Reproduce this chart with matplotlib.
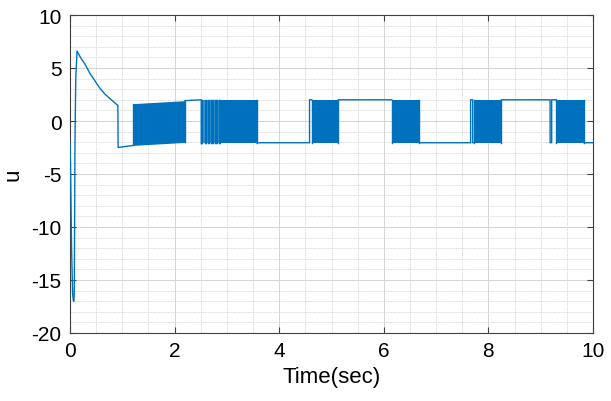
import numpy as np
import matplotlib
matplotlib.use("Agg")
import matplotlib.pyplot as plt

# ---- data ----
# initial transient (time in s, u)
t_transient = [0.0, 0.01, 0.03, 0.05, 0.065, 0.075, 0.082, 0.087, 0.095, 0.11, 0.135,
               0.2, 0.287, 0.38, 0.478, 0.57, 0.669, 0.79, 0.904, 0.915, 0.92, 1.21]
u_transient = [-2.0, -4.0, -12.0, -16.3, -17.0, -17.0, -16.0, -11.0, -2.0, 4.0, 6.6,
               6.0, 5.36, 4.5, 3.78, 3.1, 2.53, 2.0, 1.51, 1.5, -2.5, -2.3]

# piecewise "hold" segments between chattering bursts (time, u)
t_hold = [2.20, 2.50, np.nan, 3.57, 4.58, 4.58, 4.62, np.nan, 5.13, 6.15, np.nan,
          6.68, 7.66, 7.66, 7.70, 7.70, 7.73, np.nan, 8.25, 9.18, 9.18, 9.21, 9.21, 9.30,
          np.nan, 9.83, 10.0]
u_hold = [1.92, 2.0, np.nan, -2.05, -2.05, 2.0, 2.0, np.nan, 2.0, 2.0, np.nan,
          -2.05, -2.05, 2.0, 2.0, -2.05, -2.05, np.nan, 2.0, 2.0, -2.05, -2.05, 2.0, 2.0,
          np.nan, -2.05, -2.05]

# chattering bursts: start, end, upper (start,end), lower (start,end)
burst_start = [1.21, 2.50, 4.62, 6.15, 7.73, 9.30]
burst_end = [2.20, 3.57, 5.13, 6.68, 8.25, 9.83]
burst_up0 = [1.64, 2.0, 2.0, 2.0, 2.0, 2.0]
burst_up1 = [1.92, 2.0, 2.0, 2.0, 2.0, 2.0]
burst_lo0 = [-2.3, -2.05, -2.05, -2.05, -2.05, -2.05]
burst_lo1 = [-2.02, -2.05, -2.05, -2.05, -2.05, -2.05]

# sparse switching region at the start of the second burst
sparse_start, sparse_end = 2.50, 2.87
sparse_switch_times = [2.50, 2.51, 2.53, 2.58, 2.60, 2.63, 2.66, 2.69, 2.71, 2.73,
                       2.77, 2.80, 2.82, 2.84, 2.86]

x_ticks = [0, 2, 4, 6, 8, 10]
y_ticks = [-20, -15, -10, -5, 0, 5, 10]

# ---- figure ----
plt.rcParams['font.family'] = ['Liberation Sans', 'DejaVu Sans']
plt.rcParams['axes.unicode_minus'] = False
line_color = '#0072BD'
light_color = '#3b95d2'

fig = plt.figure(figsize=(6.11, 4.02), dpi=100)
ax = fig.add_axes([70 / 611, 1 - 334 / 402, (593 - 70) / 611, (334 - 16) / 402])

ax.plot(t_transient, u_transient, color=line_color, lw=1.0, zorder=3)
ax.plot(t_hold, u_hold, color=line_color, lw=1.0, zorder=3)

for s, e, a0, a1, b0, b1 in zip(burst_start, burst_end, burst_up0, burst_up1,
                                 burst_lo0, burst_lo1):
    if s == sparse_start:
        ax.fill_between([s, sparse_end], [b0, b0], [a0, a0], color=light_color,
                        lw=0, zorder=3)
        ax.fill_between([sparse_end, e], [b0, b1], [a0, a1], color=line_color,
                        lw=0, zorder=3)
    else:
        ax.fill_between([s, e], [b0, b1], [a0, a1], color=line_color, lw=0, zorder=3)
    ax.plot([s, s], [b0, a0], color=line_color, lw=1.0, zorder=3)
    ax.plot([e, e], [b1, a1], color=line_color, lw=1.0, zorder=3)

for ts in sparse_switch_times:
    ax.plot([ts, ts], [-2.05, 2.0], color=line_color, lw=1.0, zorder=3)

ax.set_xlim(0, 10)
ax.set_ylim(-20, 10)
ax.set_xticks(x_ticks)
ax.set_yticks(y_ticks)
ax.set_xticks(np.arange(0, 10.01, 0.5), minor=True)
ax.set_yticks(np.arange(-20, 10.01, 1), minor=True)
ax.grid(True, which='major', color='#d4d4d4', lw=0.7, zorder=0)
ax.grid(True, which='minor', color='#d9d9d9', lw=0.6, ls=(0, (2, 1)), zorder=0)
ax.set_axisbelow(True)

ax.tick_params(which='major', direction='in', length=4, width=0.8, color='#404040',
               top=True, right=True, labelsize=15, pad=6, labelcolor='black')
ax.tick_params(which='minor', length=0, top=True, right=True)
for sp in ax.spines.values():
    sp.set_color('#404040')
    sp.set_linewidth(0.8)

ax.set_xlabel('Time(sec)', fontsize=16, labelpad=4)
ax.set_ylabel('u', fontsize=16, labelpad=6)

fig.savefig('out.png', dpi=100)
